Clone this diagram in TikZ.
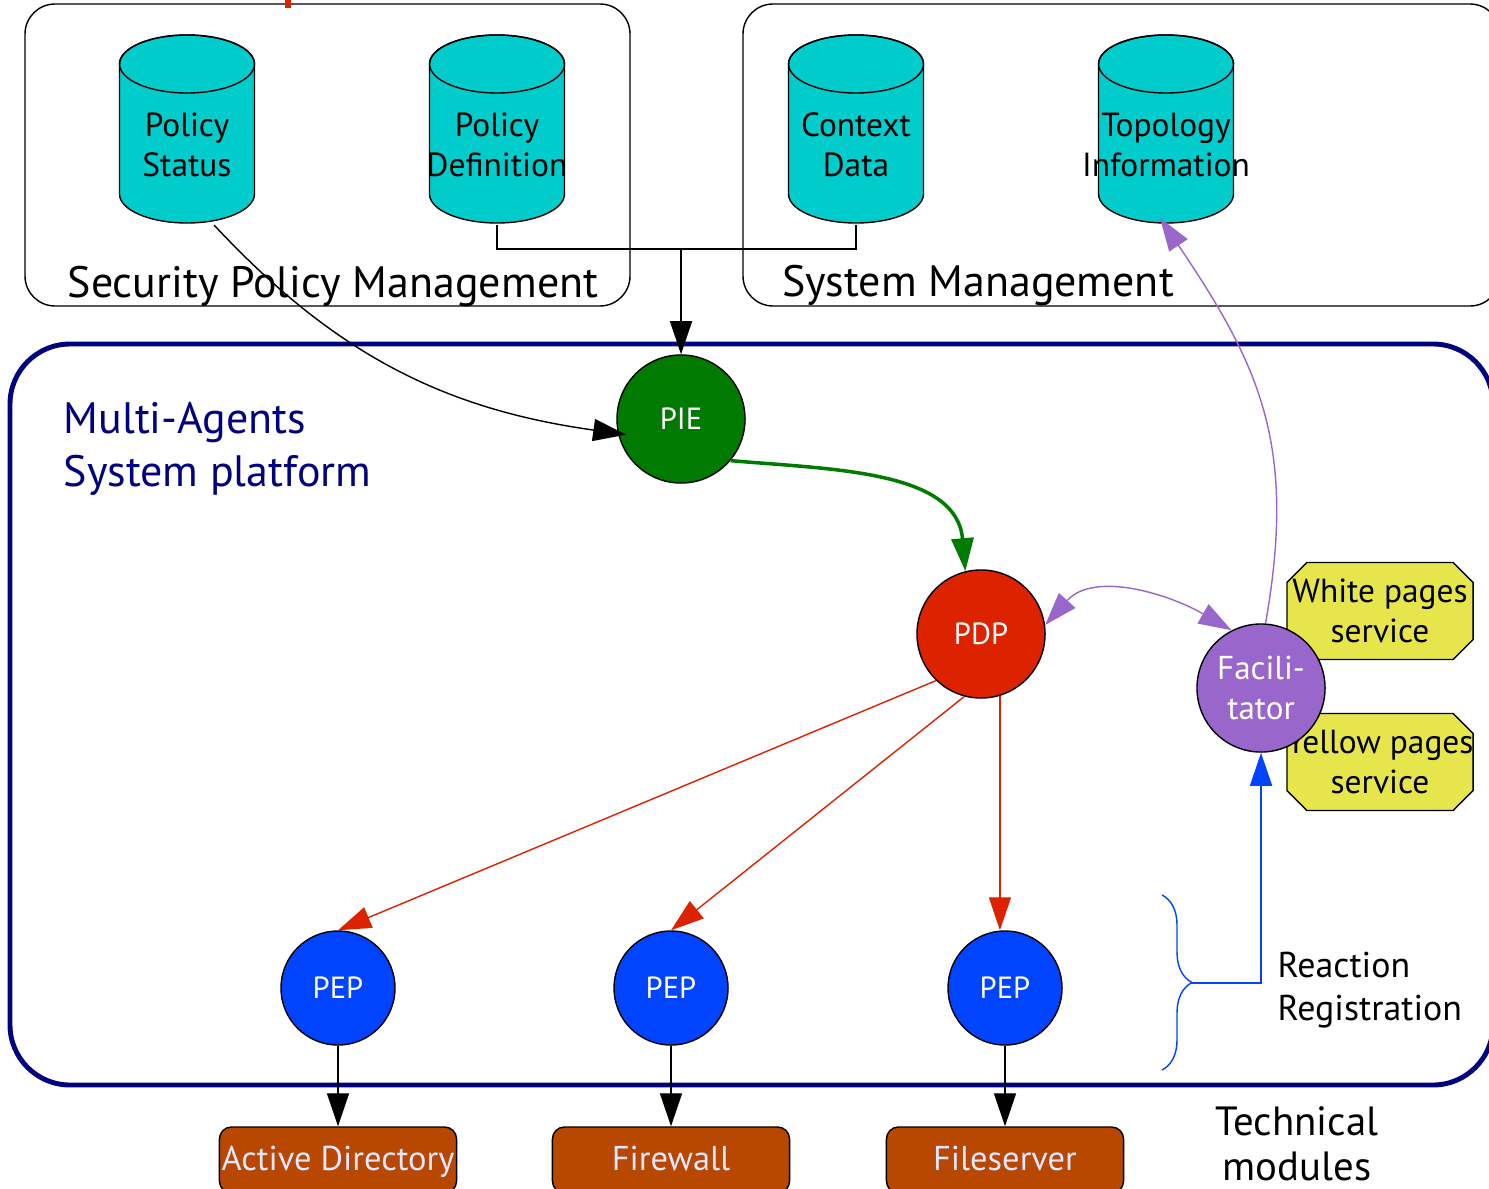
\documentclass[tikz,border=0pt]{standalone}
\usepackage{fontspec}
\setmainfont{PT Sans}
\usetikzlibrary{arrows.meta,shapes.geometric,shapes.misc,decorations.pathreplacing,positioning}

\definecolor{storecyan}{RGB}{0,204,204}
\definecolor{masnavy}{RGB}{0,0,128}
\definecolor{piegreen}{RGB}{0,122,0}
\definecolor{pdpred}{RGB}{221,34,0}
\definecolor{pepblue}{RGB}{0,68,255}
\definecolor{facpurple}{RGB}{153,102,204}
\definecolor{pageyellow}{RGB}{230,230,76}
\definecolor{modbrown}{RGB}{184,71,0}
\definecolor{modtext}{RGB}{230,230,255}

\def\spmbox{(25,4) rectangle (630,306)}
\def\smbox{(743,4) rectangle (1500,306)}
\def\masbox{(10,344) rectangle (1493,1085)}

\tikzset{
  flow/.style={-{Triangle[length=0.33cm,width=0.22cm]}},
  twoway/.style={{Triangle[length=0.33cm,width=0.22cm]}-{Triangle[length=0.33cm,width=0.22cm]}},
  storetext/.style={inner sep=0pt, minimum width=1.35cm, minimum height=1.58cm,
    align=center, font=\fontsize{9.5}{11.4}\selectfont},
  agent/.style={circle, draw, inner sep=0pt, text=white, align=center,
    font=\fontsize{8.7}{11.4}\selectfont},
  pages/.style={chamfered rectangle, chamfered rectangle xsep=0.2cm,
    chamfered rectangle ysep=0.2cm, draw, fill=pageyellow, minimum width=1.86cm,
    minimum height=0.97cm, inner sep=0pt, align=center,
    font=\fontsize{9.5}{11.4}\selectfont},
  module/.style={rectangle, rounded corners=0.12cm, draw, fill=modbrown, text=modtext,
    minimum width=2.37cm, minimum height=0.66cm, inner sep=0pt,
    text height=1.7ex, text depth=0.5ex, font=\fontsize{9.8}{11}\selectfont},
  biglabel/.style={font=\fontsize{12.5}{15}\selectfont},
}

% a data store: name, x, text
\newcommand\datastore[3]{
  \filldraw[fill=storecyan] (#2-67.5,64) -- (#2-67.5,194)
      arc[start angle=180, end angle=0, x radius=67.5, y radius=29]
      -- (#2+67.5,64) arc[start angle=0, end angle=-180, x radius=67.5, y radius=29] -- cycle;
  \draw (#2,64) ellipse[x radius=67.5, y radius=29];
  \node[storetext, anchor=south] (#1) at (#2,225) {#3};
}

\begin{document}
\begin{tikzpicture}[x=0.01cm, y=-0.01cm]
    \useasboundingbox (0,0) rectangle (1489,1188);

    % the two management blocks on top
    \draw[rounded corners=0.3cm] \spmbox;
    \draw[rounded corners=0.3cm] \smbox;
    \fill[pdpred] (285,0) rectangle (291,8);

    \datastore{pstat}{187}{Policy\\Status}
    \datastore{pdef}{497}{Policy\\Definition}
    \datastore{ctx}{856}{Context\\Data}
    \datastore{topo}{1166}{Topology\\Information}

    \node[biglabel, anchor=base] (spmlabel) at (333,297) {Security Policy Management};
    \node[biglabel, anchor=base] (smlabel) at (978,296) {System Management};

    % the platform itself
    \draw[masnavy, line width=1.4pt, rounded corners=0.6cm] \masbox;
    \node[biglabel, text=masnavy, align=left, anchor=west, inner sep=0pt] (maslabel)
        at (63,449) {Multi-Agents\\System platform};

    \node[pages] (white) at (1380,611)
        {\makebox[0pt]{White pages}\\\makebox[0pt]{service}};
    \node[pages] (yellow) at (1380,762)
        {\makebox[0pt]{Yellow pages}\\\makebox[0pt]{service}};

    \node[agent, fill=piegreen, minimum size=1.28cm] (pie) at (681,419) {PIE};
    \node[agent, fill=pdpred, minimum size=1.28cm] (pdp) at (981,634) {PDP};
    \node[agent, fill=facpurple, minimum size=1.28cm,
        font=\fontsize{9.4}{11.4}\selectfont] (fac) at (1261,688) {Facili-\\tator};

    \node[agent, fill=pepblue, minimum size=1.14cm] (pep1) at (338,988) {PEP};
    \node[agent, fill=pepblue, minimum size=1.14cm] (pep2) at (671,988) {PEP};
    \node[agent, fill=pepblue, minimum size=1.14cm] (pep3) at (1005,988) {PEP};

    \node[module] (ad) at (338,1160) {Active Directory};
    \node[module] (fw) at (671,1160) {Firewall};
    \node[module] (fs) at (1005,1160) {Fileserver};

    \node[align=left, anchor=west, inner sep=0pt, font=\fontsize{10.2}{12.2}\selectfont]
        (reactlabel) at (1277,990) {Reaction\\Registration};
    \node[align=center, font=\fontsize{11.6}{12.8}\selectfont] (techlabel)
        at (1297,1144) {Technical\\modules};

    % information flow
    \coordinate (join) at (681,249);
    \draw (pdef.south) -- (pdef.south |- join) -| (ctx.south);
    \draw[flow] (join) -- (pie.north);
    \draw[flow] ([xshift=0.27cm]pstat.south) to[out=-47, in=172] ([xshift=0.08cm]pie.194);
    \draw[flow, piegreen, line width=1pt] (pie.-40) to[out=-5, in=95] (pdp.104);

    \draw[twoway, facpurple] (pdp.8) to[out=48, in=150] (fac.117);
    \draw[flow, facpurple] (fac.86) to[out=80, in=-56, looseness=1.1] ([shift={(-6,-7)}]topo.south);

    % decisions down to the enforcement points
    \draw[flow, pdpred] (pdp.-134) -- (pep1.north);
    \draw[flow, pdpred] (pdp.-105) -- (pep2.north);
    \draw[flow, pdpred] (pdp.-73) -- (pdp.-73 |- pep3.north);

    \draw[flow] (pep1.south) -- (ad.north);
    \draw[flow] (pep2.south) -- (fw.north);
    \draw[flow] (pep3.south) -- (fs.north);

    % reactions registered at the facilitator
    \draw[pepblue, decorate, decoration={brace, amplitude=0.3cm}] (1162,895) -- (1162,1070);
    \coordinate (bracetip) at (1191,983);
    \draw[flow, pepblue] (bracetip) -| (fac.south);

\end{tikzpicture}
\end{document}
